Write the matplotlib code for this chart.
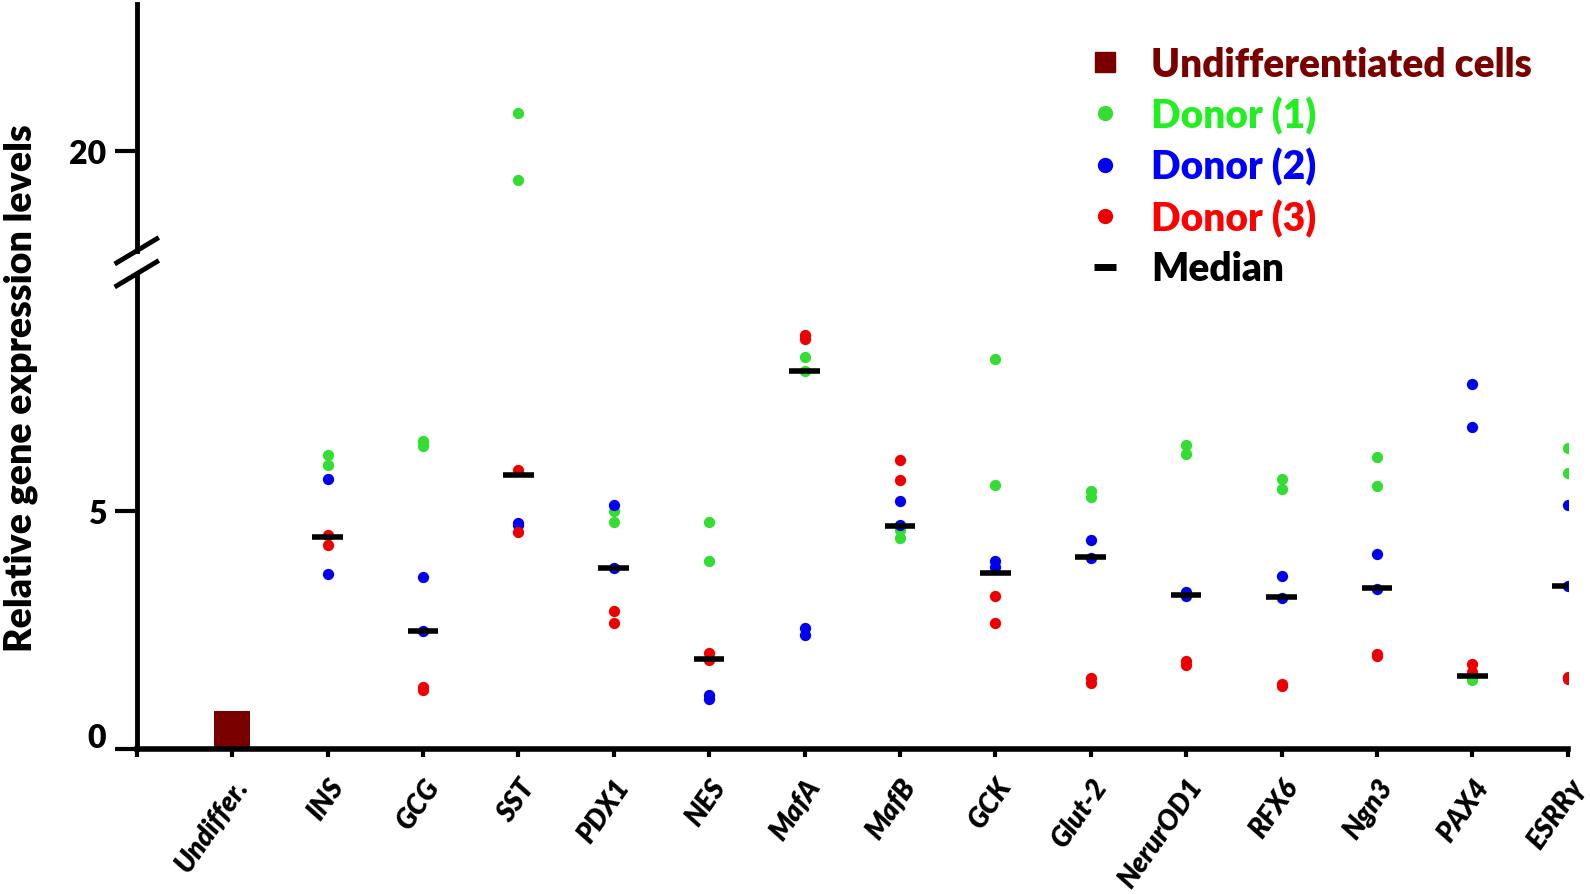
import matplotlib
matplotlib.use("Agg")
import matplotlib.pyplot as plt
from matplotlib.lines import Line2D
from matplotlib.transforms import ScaledTranslation
import numpy as np

plt.rcParams["font.family"] = ["Lato", "DejaVu Sans"]
plt.rcParams["font.weight"] = "heavy"

# data
genes = ["INS", "GCG", "SST", "PDX1", "NES", "MafA", "MafB", "GCK", "Glut-2",
         "NerurOD1", "RFX6", "Ngn3", "PAX4", "ESRRγ"]
tick_labels = ["Undiffer."] + genes
undiff_value = 0.8

donor1 = [[6.18, 5.97], [6.48, 6.38], [20.8, 19.4], [5.01, 4.77], [4.77, 3.95],
          [8.25, 7.96], [4.60, 4.45], [8.21, 5.55], [5.42, 5.31], [6.40, 6.20],
          [5.69, 5.47], [6.15, 5.53], [1.50, 1.46], [6.34, 5.81]]
donor2 = [[5.69, 3.69], [3.62, 2.48], [4.75, 4.71], [5.14, 3.81], [1.14, 1.05],
          [2.55, 2.39], [5.21, 4.72], [3.95, 3.82], [4.39, 4.02], [3.30, 3.21],
          [3.64, 3.17], [4.10, 3.36], [7.68, 6.78], [5.14, 3.44]]
donor3 = [[4.51, 4.30], [1.31, 1.25], [5.88, 4.56], [2.91, 2.65], [2.02, 1.88],
          [8.71, 8.62], [6.09, 5.65], [3.21, 2.66], [1.49, 1.39], [1.86, 1.76],
          [1.37, 1.33], [1.99, 1.96], [1.79, 1.62], [1.51, 1.47]]
medians = [4.46, 2.48, 5.76, 3.81, 1.90, 7.96, 4.70, 3.70, 4.04, 3.25,
           3.20, 3.38, 1.54, 3.44]

c_undiff = "#7a0000"
c1, c2, c3 = "#33dd33", "#0000ee", "#ee0000"

fig = plt.figure(figsize=(15.9, 8.95), dpi=100)
ax_lo = fig.add_axes([0.086, 0.162, 0.900, 0.531])
ax_hi = fig.add_axes([0.086, 0.7187, 0.900, 0.276])

xpos = np.arange(1, len(genes) + 1)

for ax in (ax_lo, ax_hi):
    ax.bar(0, undiff_value, width=0.38, color=c_undiff, zorder=2)
    for d, col in ((donor1, c1), (donor2, c2), (donor3, c3)):
        arr = np.array(d)
        for k in range(arr.shape[1]):
            ax.scatter(xpos, arr[:, k], s=66, color=col, zorder=3, linewidths=0)
    ax.hlines(medians, xpos - 0.16, xpos + 0.16, color="black", lw=4, zorder=4)
    ax.set_xlim(-1, len(genes))
    for s in ("top", "right"):
        ax.spines[s].set_visible(False)
    ax.spines["left"].set_linewidth(3.5)
    ax.tick_params(axis="y", length=16, width=3, labelsize=23, pad=6)

ax_lo.set_ylim(0, 10)
ax_hi.set_ylim(17.9, 23.1)
ax_lo.set_yticks([0, 5])
ax_hi.set_yticks([20])
ax_hi.spines["bottom"].set_visible(False)
ax_hi.set_xticks([])

# the "0" label sits a little above its tick in the original
lab0 = ax_lo.get_yticklabels()[0]
lab0.set_transform(lab0.get_transform() + ScaledTranslation(0, 10 / 72, fig.dpi_scale_trans))

ax_lo.spines["bottom"].set_linewidth(4)
ax_lo.set_xticks(np.arange(-1, len(genes) + 1))
ax_lo.set_xticklabels([""] + tick_labels, rotation=55, ha="right", va="top",
                      rotation_mode="anchor", fontsize=20, fontstyle="italic")
ax_lo.tick_params(axis="x", length=6, width=3, pad=12)

# break marks on the y axis
fw, fh = fig.get_size_inches() * fig.dpi
x0 = ax_lo.get_position().x0
for yb in (ax_hi.get_position().y0, ax_lo.get_position().y1):
    fig.add_artist(Line2D([x0 - 20 / fw, x0 + 20 / fw], [yb - 12 / fh, yb + 12 / fh],
                          color="black", lw=3.5, transform=fig.transFigure))

fig.text(0.013, 0.566, "Relative gene expression levels", rotation=90,
         ha="center", va="center", fontsize=27)

handles = [
    Line2D([], [], marker="s", ls="", color=c_undiff, markersize=14),
    Line2D([], [], marker="o", ls="", color=c1, markersize=10),
    Line2D([], [], marker="o", ls="", color=c2, markersize=10),
    Line2D([], [], marker="o", ls="", color=c3, markersize=10),
    Line2D([], [], marker="_", ls="", color="black", markersize=16, mew=5),
]
names = ["Undifferentiated cells", "Donor (1)", "Donor (2)", "Donor (3)", "Median"]
fig.legend(handles, names, loc="upper left", bbox_to_anchor=(0.683, 0.948),
           frameon=False, fontsize=28, handlelength=1.0, handletextpad=0.68,
           labelspacing=0.34, borderpad=0, borderaxespad=0,
           labelcolor=[c_undiff, "#22ee22", "#0000ff", "#ff0000", "black"])

fig.savefig("out.png", dpi=100)
